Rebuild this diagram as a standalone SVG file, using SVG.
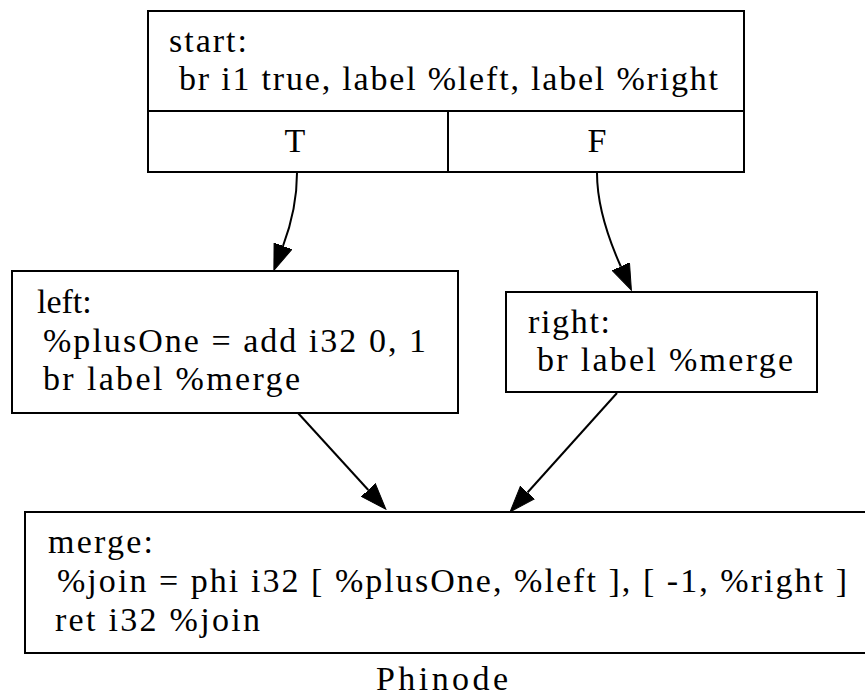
<svg xmlns="http://www.w3.org/2000/svg" width="865" height="698" viewBox="0 0 865 698">
  <style>
    .box { fill: #ffffff; stroke: #000000; stroke-width: 2; }
    .sep { stroke: #000000; stroke-width: 2; fill: none; }
    .lbl { font-family: "Liberation Serif", "Times New Roman", serif; font-size: 34px; fill: #000000; }
    .mid { text-anchor: middle; }
    .edge { fill: none; stroke: #000000; stroke-width: 2; }
  </style>
  <defs>
    <marker id="arrow" viewBox="0 0 27 20" refX="0" refY="10" markerWidth="27" markerHeight="20" markerUnits="userSpaceOnUse" orient="auto">
      <path d="M0,0.5 L26,10 L0,19.5 z" fill="#000000" stroke="#000000" stroke-width="1"/>
    </marker>
  </defs>

  <rect width="865" height="698" fill="#ffffff"/>

  <!-- start block with T / F ports -->
  <g id="start">
    <rect class="box" x="148" y="11" width="596" height="161"/>
    <line class="sep" x1="148" y1="111" x2="744" y2="111"/>
    <line class="sep" x1="448" y1="111" x2="448" y2="172"/>
    <text class="lbl" x="169" y="52" textLength="78" lengthAdjust="spacing">start:</text>
    <text class="lbl" x="179" y="90" textLength="539" lengthAdjust="spacing">br i1 true, label %left, label %right</text>
    <text class="lbl mid" x="295" y="152">T</text>
    <text class="lbl mid" x="597" y="152">F</text>
  </g>

  <!-- left block -->
  <g id="left">
    <rect class="box" x="12" y="271" width="446" height="142"/>
    <text class="lbl" x="37" y="313">left:</text>
    <text class="lbl" x="43" y="352" textLength="383" lengthAdjust="spacing">%plusOne = add i32 0, 1</text>
    <text class="lbl" x="43" y="390" textLength="257" lengthAdjust="spacing">br label %merge</text>
  </g>

  <!-- right block -->
  <g id="right">
    <rect class="box" x="506" y="292" width="311" height="100"/>
    <text class="lbl" x="528" y="333" textLength="82" lengthAdjust="spacing">right:</text>
    <text class="lbl" x="537" y="371" textLength="256" lengthAdjust="spacing">br label %merge</text>
  </g>

  <!-- merge block -->
  <g id="merge">
    <rect class="box" x="25" y="512" width="842" height="141"/>
    <text class="lbl" x="48" y="553" textLength="105" lengthAdjust="spacing">merge:</text>
    <text class="lbl" x="57" y="592" textLength="790" lengthAdjust="spacing">%join = phi i32 [ %plusOne, %left ], [ -1, %right ]</text>
    <text class="lbl" x="55" y="631" textLength="205" lengthAdjust="spacing">ret i32 %join</text>
  </g>

  <!-- control-flow edges -->
  <g id="edges">
    <path class="edge" d="M297,173 C297,200 292,222 283,246" marker-end="url(#arrow)"/>
    <path class="edge" d="M597,173 C597,205 608.3,238.5 620.8,266.5" marker-end="url(#arrow)"/>
    <path class="edge" d="M298,413 L368.3,490" marker-end="url(#arrow)"/>
    <path class="edge" d="M617,393 L527.5,492.5" marker-end="url(#arrow)"/>
  </g>

  <text class="lbl mid" x="442" y="690" textLength="132" lengthAdjust="spacing">Phinode</text>
</svg>
